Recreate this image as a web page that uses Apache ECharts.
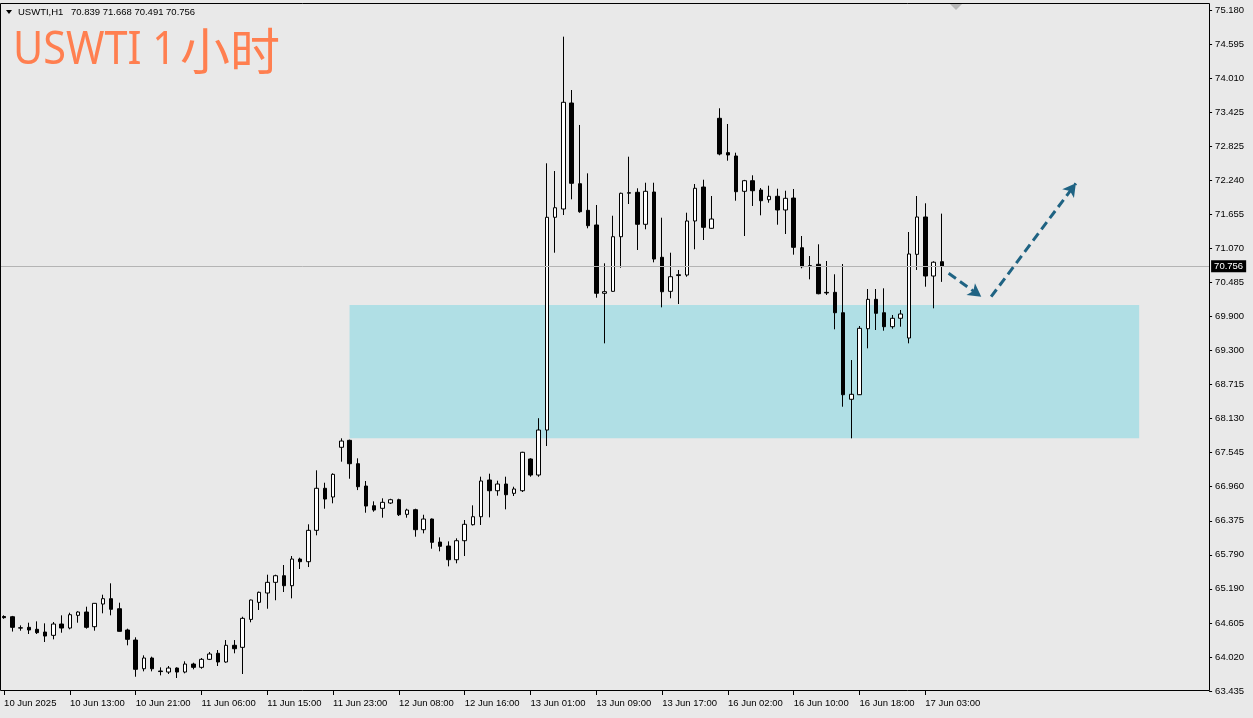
<!DOCTYPE html>
<html><head><meta charset="utf-8">
<script src="https://cdn.jsdelivr.net/npm/echarts@6/dist/echarts.min.js"></script>
<style>html,body{margin:0;padding:0;background:#e9e9e9;}#c{width:1253px;height:718px;}</style>
</head><body><div id="c"></div>
<script>
// ---- data (hourly bars, USWTI H1) ----
const open  = [64.72,64.716,64.525,64.533,64.499,64.452,64.395,64.59,64.521,64.74,64.797,64.544,64.935,65.027,64.854,64.487,64.314,63.819,64.004,63.78,63.762,63.831,63.762,63.9,63.843,63.981,64.085,63.935,64.223,64.188,
64.67,64.964,65.125,65.309,65.423,65.251,65.711,65.665,66.206,66.931,66.781,67.638,67.758,67.355,66.97,66.63,66.586,66.677,66.734,66.482,66.562,66.217,66.401,66.004,65.935,65.699,66.027,66.303,66.441,67.074,
66.889,67.005,66.844,66.889,67.436,67.16,67.936,71.605,71.748,73.576,72.184,71.725,71.472,70.294,70.328,71.27,72.02,72.036,71.484,72.041,70.915,70.328,70.60,70.609,71.541,72.127,71.415,73.312,72.72,72.662,
72.053,72.236,72.075,71.908,71.967,71.731,71.937,71.08,70.77,70.794,70.31,70.311,69.959,68.466,68.545,69.683,70.19,69.959,69.718,69.863,69.523,70.966,71.61,70.592,70.839];
const high  = [64.74,64.73,64.567,64.613,64.636,64.602,64.625,64.74,64.785,64.81,64.889,64.95,65.096,65.292,64.958,64.51,64.361,64.05,64.027,63.843,63.866,63.843,63.947,63.923,64.004,64.107,64.142,64.314,64.314,64.716,
65.01,65.149,65.441,65.441,65.608,65.763,65.734,66.31,67.241,67.027,67.189,67.793,67.77,67.448,67.057,66.706,66.758,66.75,66.751,66.579,66.579,66.475,66.41,66.085,66.016,66.068,66.384,66.637,67.131,67.183,
67.062,67.131,66.958,67.56,67.448,68.14,72.536,72.403,74.72,73.8,73.197,72.363,71.817,70.811,71.632,72.03,72.65,72.105,72.201,72.201,71.598,70.994,70.696,71.684,72.179,72.253,71.972,73.485,73.214,72.719,
72.25,72.329,72.11,72.15,72.098,72.063,72.093,71.282,70.937,71.139,70.851,70.622,70.799,69.143,69.73,70.368,70.368,70.38,69.92,70.006,71.351,71.972,71.846,70.846,71.668];
const low   = [64.68,64.46,64.475,64.418,64.418,64.28,64.326,64.44,64.499,64.613,64.51,64.475,64.775,64.74,64.46,64.223,63.681,63.774,63.774,63.705,63.728,63.659,63.74,63.809,63.819,63.969,63.866,63.923,64.085,63.728,
64.62,64.832,64.854,65.0,65.142,65.033,65.539,65.573,66.12,66.579,66.672,67.39,67.096,66.90,66.51,66.527,66.424,66.66,66.453,66.424,66.096,66.154,65.889,65.844,65.585,65.637,65.763,66.29,66.298,66.43,
66.803,66.568,66.798,66.867,67.131,67.13,67.66,70.994,71.644,71.915,71.684,71.415,70.218,69.431,70.32,70.735,71.834,71.041,71.398,70.828,70.052,70.208,70.109,70.58,71.053,71.213,71.41,72.674,72.581,71.891,
71.282,71.80,71.639,71.856,71.477,71.317,70.96,70.725,70.535,70.277,70.265,69.673,68.338,67.793,68.54,69.345,69.661,69.649,69.683,69.718,69.431,70.696,70.408,70.035,70.491];
const close = [64.70,64.533,64.52,64.487,64.441,64.383,64.59,64.521,64.751,64.797,64.533,64.947,65.027,64.844,64.464,64.326,63.809,64.004,63.819,63.77,63.831,63.762,63.9,63.843,63.981,64.073,63.935,64.223,64.164,64.688,
65.004,65.137,65.309,65.423,65.251,65.711,65.665,66.206,66.931,66.746,67.172,67.746,67.355,66.958,66.625,66.556,66.689,66.734,66.475,66.556,66.217,66.401,65.999,65.93,65.699,66.027,66.31,66.441,67.057,66.889,
67.005,66.82,66.919,67.552,67.16,67.936,71.605,71.77,73.588,72.191,71.701,71.46,70.294,70.322,71.27,72.019,72.03,71.484,72.053,70.885,70.321,70.58,70.615,71.541,72.105,71.432,71.575,72.696,72.68,72.046,
72.236,72.063,71.891,71.967,71.731,71.932,71.087,70.753,70.76,70.287,70.30,69.959,68.545,68.552,69.69,70.19,69.949,69.718,69.863,69.937,70.972,71.61,70.592,70.83,70.756];

const barCount = 147;           // visible bar slots incl. empty future space
const labelEvery = 8;
const timeLabels = ['10 Jun 2025','10 Jun 13:00','10 Jun 21:00','11 Jun 06:00','11 Jun 15:00','11 Jun 23:00','12 Jun 08:00','12 Jun 16:00','13 Jun 01:00','13 Jun 09:00','13 Jun 17:00','16 Jun 02:00','16 Jun 10:00','16 Jun 18:00','17 Jun 03:00'];
const priceTicks = ['63.435','64.020','64.605','65.190','65.790','66.375','66.960','67.545','68.130','68.715','69.300','69.900','70.485','71.070','71.655','72.240','72.825','73.425','74.010','74.595','75.180'];
const priceMin = 63.435, priceMax = 75.180;
const lastPrice = 70.756;
const zoneBars = [42, 138];
const zonePrices = [70.092, 67.793];
const arrowDown = [[114.83, 70.639], [118.8, 70.235]];
const arrowUp = [[120.0, 70.235], [130.3, 72.191]];

const categories = Array.from({length: barCount}, (_, i) => String(i));
const candles = open.map((o, i) => [o, close[i], low[i], high[i]]);
const FONT = '"Liberation Sans", Arial, sans-serif';

const chart = echarts.init(document.getElementById('c'));
chart.setOption({
  animation: false,
  backgroundColor: '#e9e9e9',
  grid: {left: -1.4, right: 43.9, top: 10, bottom: 27, containLabel: false},
  xAxis: [{
    type: 'category', data: categories, boundaryGap: true,
    axisLine: {show: false}, splitLine: {show: false},
    axisTick: {show: true, alignWithLabel: true, length: 4, lineStyle: {color: '#000'},
      interval: (i) => i % labelEvery === 0 && i / labelEvery < timeLabels.length},
    axisLabel: {interval: (i) => i % labelEvery === 0 && i / labelEvery < timeLabels.length,
      formatter: (v, i) => timeLabels[i / labelEvery] || '', align: 'left', margin: 7,
      fontSize: 9.5, fontFamily: FONT, color: '#000'}
  }, {
    type: 'value', min: -0.5, max: barCount - 0.5, show: false
  }],
  yAxis: [{
    type: 'value', min: priceMin, max: priceMax, show: false, splitLine: {show: false}
  }, {
    type: 'category', data: priceTicks, boundaryGap: false, position: 'right',
    axisLine: {show: false}, splitLine: {show: false},
    axisTick: {show: true, length: 3, lineStyle: {color: '#000'}},
    axisLabel: {margin: 6, fontSize: 9.5, fontFamily: FONT, color: '#000'}
  }],
  series: [{
    type: 'line', xAxisIndex: 1, yAxisIndex: 0, data: [], z: 1, silent: true,
    markArea: {silent: true, itemStyle: {color: '#b0dfe5'},
      data: [[{coord: [zoneBars[0], zonePrices[0]]}, {coord: [zoneBars[1], zonePrices[1]]}]]}
  }, {
    type: 'candlestick', xAxisIndex: 0, yAxisIndex: 0, data: candles, z: 2,
    barWidth: 4,
    itemStyle: {color: '#ffffff', color0: '#000000', borderColor: '#000000', borderColor0: '#000000', borderWidth: 1},
    markLine: {silent: true, symbol: 'none', animation: false,
      lineStyle: {color: '#b4b4b4', width: 1, type: 'solid'},
      label: {show: true, position: 'end', distance: 2, formatter: () => lastPrice.toFixed(3),
        backgroundColor: '#000', color: '#fff', fontSize: 9.5, fontFamily: FONT, padding: [1, 3, 1, 3]},
      data: [{yAxis: lastPrice}]}
  }, {
    type: 'line', xAxisIndex: 1, yAxisIndex: 0, data: [], z: 3, silent: true,
    markLine: {silent: true, symbol: ['none', 'arrow'], symbolSize: [11, 13], animation: false,
      lineStyle: {color: '#1f6383', width: 3, type: [9, 5]},
      label: {show: false},
      data: [[{coord: arrowDown[0]}, {coord: arrowDown[1]}], [{coord: arrowUp[0]}, {coord: arrowUp[1]}]]}
  }],
  graphic: [
    {type: 'rect', z: 100, silent: true, shape: {x: 0.5, y: 3.5, width: 1209, height: 687},
      style: {fill: 'none', stroke: '#000', lineWidth: 1}},
    {type: 'polygon', z: 100, silent: true, shape: {points: [[6, 10], [12, 10], [9, 14]]}, style: {fill: '#000'}},
    {type: 'text', z: 100, silent: true, left: 18, top: 7,
      style: {text: 'USWTI,H1', font: '9.5px ' + FONT, fill: '#000'}},
    {type: 'text', z: 100, silent: true, left: 71, top: 7,
      style: {text: '70.839 71.668 70.491 70.756', font: '9.5px ' + FONT, fill: '#000'}},
    {type: 'polygon', z: 100, silent: true, shape: {points: [[950, 4], [962, 4], [956, 10]]}, style: {fill: '#b8b8b8'}},
    {type: 'text', z: 100, silent: true, x: 13, y: 28, scaleX: 0.9,
      style: {text: 'USWTI 1', font: '46px "Noto Sans", sans-serif', fill: '#ff7f50'}},
    {type: 'text', z: 100, silent: true, x: 180, y: 26,
      style: {text: '小时', font: '50px "Noto Sans CJK SC", sans-serif', fill: '#ff7f50'}}
  ]
});
</script></body></html>
